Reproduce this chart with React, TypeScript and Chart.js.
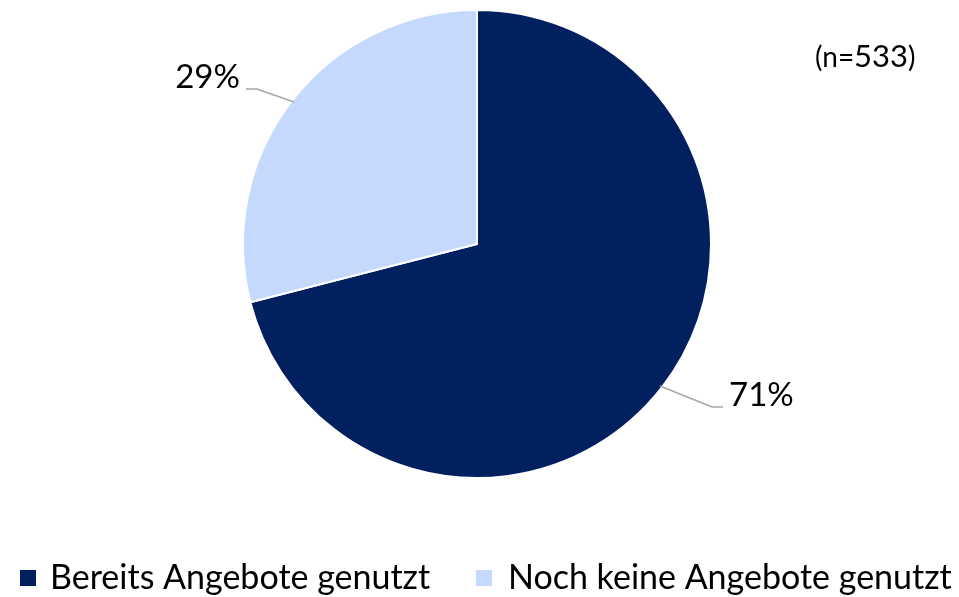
import React, { useEffect, useRef } from "react";
import { Chart, registerables } from "chart.js";

Chart.register(...registerables);

const categories = ["Bereits Angebote genutzt", "Noch keine Angebote genutzt"];
const values = [71, 29];
const valueLabels = ["71%", "29%"];
const colors = ["#002060", "#C5D9FF"];
const sampleNote = ["(n=", "533", ")"];

const FONT = "Lato, 'Open Sans', sans-serif";

const overlayPlugin = {
  id: "overlay",
  afterDraw(chart: any) {
    const ctx = chart.ctx as CanvasRenderingContext2D;
    const meta = chart.getDatasetMeta(0);
    ctx.save();
    // value labels with leader lines
    meta.data.forEach((arc: any, i: number) => {
      const { x, y, outerRadius, startAngle, endAngle } = arc.getProps(
        ["x", "y", "outerRadius", "startAngle", "endAngle"],
        true
      );
      const mid = (startAngle + endAngle) / 2;
      const px = x + Math.cos(mid) * outerRadius * 0.99;
      const py = y + Math.sin(mid) * outerRadius * 0.99;
      const right = Math.cos(mid) >= 0;
      const ex = px + (right ? 52 : -37);
      const ey = py + (right ? 21 : -13);
      const hx = ex + (right ? 11 : -11);
      ctx.strokeStyle = "#A6A6A6";
      ctx.lineWidth = 1.5;
      ctx.beginPath();
      ctx.moveTo(px, py);
      ctx.lineTo(ex, ey);
      ctx.lineTo(hx, ey);
      ctx.stroke();
      ctx.fillStyle = "#000";
      ctx.font = `33px ${FONT}`;
      ctx.textBaseline = "alphabetic";
      ctx.textAlign = right ? "left" : "right";
      ctx.fillText(valueLabels[i], hx + (right ? 6 : -6), ey + (right ? -1 : -1));
    });
    // sample size
    ctx.textBaseline = "alphabetic";
    ctx.textAlign = "left";
    let nx = 815;
    const ny = 67;
    const sizes = [28, 31, 28];
    sampleNote.forEach((t, i) => {
      ctx.font = `${sizes[i]}px ${FONT}`;
      ctx.fillText(t, nx, ny);
      nx += ctx.measureText(t).width;
    });
    // legend
    const legendX = [20, 476];
    const textX = [50, 508];
    ctx.font = `34px ${FONT}`;
    categories.forEach((c, i) => {
      ctx.fillStyle = colors[i];
      ctx.fillRect(legendX[i], 570, 16, 16);
      ctx.fillStyle = "#000";
      ctx.fillText(c, textX[i], 589);
    });
    ctx.restore();
  },
};

export default function App() {
  const ref = useRef<HTMLCanvasElement>(null);
  useEffect(() => {
    document.body.style.margin = "0";
    const chart = new Chart(ref.current!, {
      type: "pie",
      data: {
        labels: categories,
        datasets: [
          {
            data: values,
            backgroundColor: colors,
            borderColor: "#FFFFFF",
            borderWidth: 2,
          },
        ],
      },
      options: {
        responsive: false,
        animation: false,
        layout: { padding: { left: 242, right: 247, top: 9, bottom: 118 } },
        plugins: { legend: { display: false }, tooltip: { enabled: false } },
      },
      plugins: [overlayPlugin],
    });
    return () => chart.destroy();
  }, []);
  return (
    <div style={{ width: 959, height: 597, background: "#fff" }}>
      <canvas ref={ref} width={959} height={597} />
    </div>
  );
}
